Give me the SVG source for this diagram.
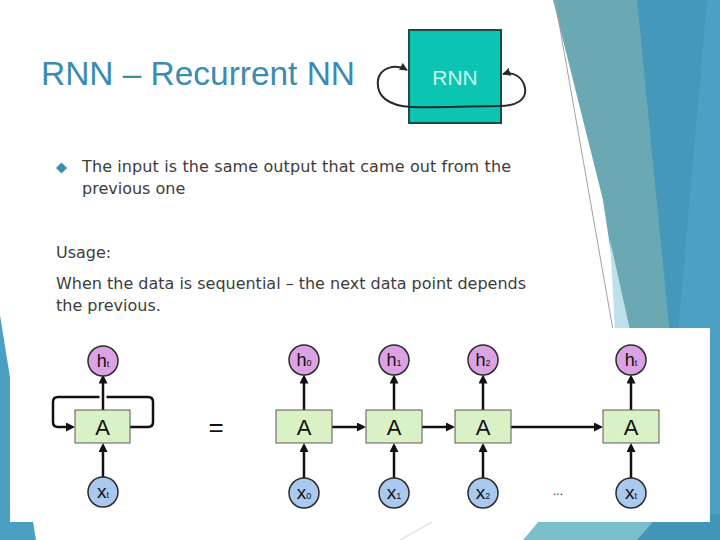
<svg xmlns="http://www.w3.org/2000/svg" width="720" height="540" viewBox="0 0 720 540">
<style>
.title{font-family:"Liberation Sans",Arial,sans-serif;font-size:34px;fill:#3a8cb0}
.body{font-family:"DejaVu Sans","Liberation Sans",sans-serif;font-size:16px;fill:#3c3c3c}
.hc{fill:#dba3e3;stroke:#2b2b2b;stroke-width:1.5}
.xc{fill:#a9c9ee;stroke:#2b2b2b;stroke-width:1.5}
.box{fill:#d9f1c5;stroke:#5a5a5a;stroke-width:1}
.lbl{font-family:"Liberation Sans",Arial,sans-serif;fill:#111}
.big{font-size:22px}
.conn{stroke:#111;stroke-width:2.5;fill:none;marker-end:url(#ah)}
</style>
<defs>
<marker id="ah" viewBox="0 0 10 10" refX="6.7" refY="5" markerWidth="9" markerHeight="9" markerUnits="userSpaceOnUse" orient="auto">
<path d="M0,0 L10,5 L0,10 z" fill="#111"/>
</marker>
<marker id="lh" viewBox="0 0 10 10" refX="9" refY="5" markerWidth="8" markerHeight="8" markerUnits="userSpaceOnUse" orient="auto-start-reverse">
<path d="M0,0 L10,5 L0,10 z" fill="#2a2a2a"/>
</marker>
</defs>
<rect width="720" height="540" fill="#fff"/>
<g id="decor">
<polygon points="553,0 645,0 675,340 624,340 603,200" fill="#6aa9b4"/>
<polygon points="637,0 720,0 720,540 690,540" fill="#4499bb"/>
<polygon points="707,0 720,0 720,540 660,540" fill="#4aa1c5"/>
<polygon points="610,240 630,330 615,330" fill="#bfe0ea"/>
<line x1="555" y1="0" x2="613" y2="330" stroke="#a0a0a0" stroke-width="1"/>
<polygon points="0,315 36,540 0,540" fill="#4b9fc3"/>
<polygon points="523,540 545,514 720,514 720,540" fill="#7abfc9"/>
<polygon points="637,540 660,514 720,514 720,540" fill="#3f96b9"/>
<line x1="400" y1="540" x2="432" y2="522" stroke="#c8c8c8" stroke-width="0.8"/>
<rect x="10" y="328" width="700" height="194" fill="#fff"/>
</g>
<g id="rnn-icon">
<rect x="409" y="30" width="92" height="93" fill="#0bc4b1" stroke="#1f4a4a" stroke-width="2"/>
<text x="455" y="85" text-anchor="middle" font-family="Liberation Sans,Arial,sans-serif" font-size="21" fill="#cdf7f1">RNN</text>
<path d="M407,70 C395,63 380,68 378,80 C376,96 388,106 412,107 C445,108 475,106 500,106 C516,106 527,100 525,88 C523,77 513,71 503,74" fill="none" stroke="#2a2a2a" stroke-width="2" marker-start="url(#lh)" marker-end="url(#lh)"/>
</g>
<g id="text">
<text class="title" x="41" y="85" textLength="314" lengthAdjust="spacingAndGlyphs">RNN – Recurrent NN</text>
<polygon points="61.5,162.5 67,168 61.5,173.5 56,168" fill="#3a8cb0"/>
<text class="body" x="82" y="172" textLength="429">The input is the same output that came out from the</text>
<text class="body" x="82" y="194">previous one</text>
<text class="body" x="56" y="258">Usage:</text>
<text class="body" x="56" y="289" textLength="470">When the data is sequential – the next data point depends</text>
<text class="body" x="56" y="311">the previous.</text>
</g>
<g id="connectors">
<path class="conn" d="M130,427 H148 Q153,427 153,422 V402 Q153,397 148,397 H58 Q53,397 53,402 V422 Q53,427 58,427 H72"/>
<line x1="103" y1="402" x2="103" y2="393" stroke="#fff" stroke-width="7"/>
<line class="conn" x1="103" y1="410" x2="103" y2="377.5"/>
<line class="conn" x1="103" y1="477" x2="103" y2="446"/>
<line class="conn" x1="304" y1="410" x2="304" y2="377.5"/>
<line class="conn" x1="304" y1="478" x2="304" y2="446"/>
<line class="conn" x1="394" y1="410" x2="394" y2="377.5"/>
<line class="conn" x1="394" y1="478" x2="394" y2="446"/>
<line class="conn" x1="483" y1="410" x2="483" y2="377.5"/>
<line class="conn" x1="483" y1="478" x2="483" y2="446"/>
<line class="conn" x1="631" y1="410" x2="631" y2="377.5"/>
<line class="conn" x1="631" y1="478" x2="631" y2="446"/>
<line class="conn" x1="332" y1="427" x2="363" y2="427"/>
<line class="conn" x1="422" y1="427" x2="452" y2="427"/>
<line class="conn" x1="511" y1="427" x2="600" y2="427"/>
</g>
<g id="A-fold"><rect class="box" x="75" y="410" width="55" height="33"/><text class="lbl big" x="102.5" y="435" text-anchor="middle">A</text></g>
<g id="h-fold"><circle class="hc" cx="103" cy="361" r="15"/><text class="lbl" x="103" y="367" text-anchor="middle"><tspan font-size="18">h</tspan><tspan font-size="9">t</tspan></text></g>
<g id="x-fold"><circle class="xc" cx="103" cy="492" r="15"/><text class="lbl" x="103" y="498" text-anchor="middle"><tspan font-size="19">x</tspan><tspan font-size="9">t</tspan></text></g>
<g id="equals"><text class="lbl" x="216" y="436" text-anchor="middle" font-size="26" fill="#222">=</text></g>
<g id="A0"><rect class="box" x="276" y="410" width="56" height="33"/><text class="lbl big" x="304" y="435" text-anchor="middle">A</text></g>
<g id="A1"><rect class="box" x="366" y="410" width="56" height="33"/><text class="lbl big" x="394" y="435" text-anchor="middle">A</text></g>
<g id="A2"><rect class="box" x="455" y="410" width="56" height="33"/><text class="lbl big" x="483" y="435" text-anchor="middle">A</text></g>
<g id="At"><rect class="box" x="603" y="410" width="56" height="33"/><text class="lbl big" x="631" y="435" text-anchor="middle">A</text></g>
<g id="h0"><circle class="hc" cx="304" cy="360" r="15"/><text class="lbl" x="304" y="366" text-anchor="middle"><tspan font-size="18">h</tspan><tspan font-size="9">0</tspan></text></g>
<g id="h1"><circle class="hc" cx="394" cy="360" r="15"/><text class="lbl" x="394" y="366" text-anchor="middle"><tspan font-size="18">h</tspan><tspan font-size="9">1</tspan></text></g>
<g id="h2"><circle class="hc" cx="483" cy="360" r="15"/><text class="lbl" x="483" y="366" text-anchor="middle"><tspan font-size="18">h</tspan><tspan font-size="9">2</tspan></text></g>
<g id="ht"><circle class="hc" cx="631" cy="360" r="15"/><text class="lbl" x="631" y="366" text-anchor="middle"><tspan font-size="18">h</tspan><tspan font-size="9">t</tspan></text></g>
<g id="x0"><circle class="xc" cx="304" cy="493" r="15"/><text class="lbl" x="304" y="499" text-anchor="middle"><tspan font-size="19">x</tspan><tspan font-size="9">0</tspan></text></g>
<g id="x1"><circle class="xc" cx="394" cy="493" r="15"/><text class="lbl" x="394" y="499" text-anchor="middle"><tspan font-size="19">x</tspan><tspan font-size="9">1</tspan></text></g>
<g id="x2"><circle class="xc" cx="483" cy="493" r="15"/><text class="lbl" x="483" y="499" text-anchor="middle"><tspan font-size="19">x</tspan><tspan font-size="9">2</tspan></text></g>
<g id="xt"><circle class="xc" cx="631" cy="493" r="15"/><text class="lbl" x="631" y="499" text-anchor="middle"><tspan font-size="19">x</tspan><tspan font-size="9">t</tspan></text></g>
<g id="dots"><text class="lbl" x="558" y="495" text-anchor="middle" font-size="12" fill="#888">...</text></g>
</svg>
